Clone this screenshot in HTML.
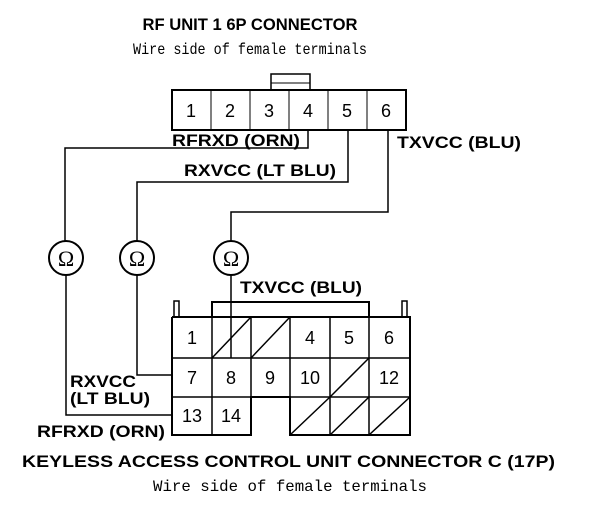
<!DOCTYPE html>
<html><head><style>
body{margin:0;background:#fff}
svg{display:block}
.b{font-family:"Liberation Sans",sans-serif;font-weight:bold;font-size:17px}
.m{font-family:"Liberation Mono",monospace;font-size:16px}
.n{font-family:"Liberation Sans",sans-serif;font-size:18px}
</style></head><body>
<svg width="608" height="512" viewBox="0 0 608 512" xmlns="http://www.w3.org/2000/svg">
<g fill="#000">
<text class="b" x="250" y="30" text-anchor="middle" textLength="215" lengthAdjust="spacingAndGlyphs">RF UNIT 1 6P CONNECTOR</text>
<text class="m" x="250" y="54" text-anchor="middle" textLength="234" lengthAdjust="spacingAndGlyphs">Wire side of female terminals</text>
</g>
<g stroke="#000" fill="none" stroke-width="2">
<rect x="271" y="74" width="39" height="16" stroke-width="1.5"/>
<line x1="271" y1="83" x2="310" y2="83" stroke-width="1"/>
<rect x="172" y="90" width="234" height="40"/>
<g stroke-width="1">
<line x1="211" y1="90" x2="211" y2="130"/><line x1="250" y1="90" x2="250" y2="130"/>
<line x1="289" y1="90" x2="289" y2="130"/><line x1="328" y1="90" x2="328" y2="130"/>
<line x1="367" y1="90" x2="367" y2="130"/>
</g>
<polyline points="308,130 308,148 65,148 65,241" stroke-width="1.5"/>
<polyline points="348,130 348,182 137,182 137,241" stroke-width="1.5"/>
<polyline points="388,130 388,212 231,212 231,241" stroke-width="1.5"/>
<circle cx="66" cy="258" r="17"/><circle cx="137" cy="258" r="17"/><circle cx="231" cy="258" r="17"/>
<polyline points="66,275 66,415 172,415" stroke-width="1.5"/>
<polyline points="137,275 137,375 172,375" stroke-width="1.5"/>
<line x1="231" y1="275" x2="231" y2="358" stroke-width="1.5"/>
<polyline points="212,317 212,302 369,302 369,317"/>
<rect x="174" y="301" width="5" height="16" stroke-width="1.5"/>
<rect x="402" y="301" width="5" height="16" stroke-width="1.5"/>
<polyline points="172,317 410,317 410,435 290,435 290,397 251,397 251,435 172,435 172,317"/>
<g stroke-width="1.5">
<line x1="172" y1="358" x2="410" y2="358"/><line x1="172" y1="397" x2="251" y2="397"/><line x1="290" y1="397" x2="410" y2="397"/>
<line x1="212" y1="317" x2="212" y2="435"/><line x1="251" y1="317" x2="251" y2="397"/>
<line x1="290" y1="317" x2="290" y2="397"/><line x1="330" y1="317" x2="330" y2="435"/>
<line x1="369" y1="317" x2="369" y2="435"/>
<line x1="212" y1="358" x2="251" y2="317"/><line x1="251" y1="358" x2="290" y2="317"/>
<line x1="330" y1="397" x2="369" y2="358"/>
<line x1="290" y1="435" x2="330" y2="397"/><line x1="330" y1="435" x2="369" y2="397"/><line x1="369" y1="435" x2="410" y2="397"/>
</g>
</g>
<g fill="#000" class="n" text-anchor="middle">
<text x="191" y="117">1</text><text x="230" y="117">2</text><text x="269" y="117">3</text>
<text x="308" y="117">4</text><text x="347" y="117">5</text><text x="386" y="117">6</text>
<text x="192" y="344">1</text><text x="310" y="344">4</text><text x="349" y="344">5</text><text x="389" y="344">6</text>
<text x="192" y="384">7</text><text x="231" y="384">8</text><text x="270" y="384">9</text><text x="310" y="384">10</text><text x="389" y="384">12</text>
<text x="192" y="422">13</text><text x="231" y="422">14</text>
</g>
<g fill="#000" font-family="Liberation Serif,serif" font-size="22" text-anchor="middle">
<text x="66" y="266">Ω</text><text x="137" y="266">Ω</text><text x="231" y="266">Ω</text>
</g>
<g fill="#000" class="b">
<text x="172" y="146" textLength="128" lengthAdjust="spacingAndGlyphs">RFRXD (ORN)</text>
<text x="184" y="176" textLength="152" lengthAdjust="spacingAndGlyphs">RXVCC (LT BLU)</text>
<text x="397" y="148" textLength="124" lengthAdjust="spacingAndGlyphs">TXVCC (BLU)</text>
<text x="240" y="293" textLength="122" lengthAdjust="spacingAndGlyphs">TXVCC (BLU)</text>
<text x="70" y="387" textLength="66" lengthAdjust="spacingAndGlyphs">RXVCC</text>
<text x="70" y="404" textLength="80" lengthAdjust="spacingAndGlyphs">(LT BLU)</text>
<text x="37" y="437" textLength="128" lengthAdjust="spacingAndGlyphs">RFRXD (ORN)</text>
<text x="22" y="467" textLength="533" lengthAdjust="spacingAndGlyphs">KEYLESS ACCESS CONTROL UNIT CONNECTOR C (17P)</text>
</g>
<text class="m" x="290" y="491" text-anchor="middle" textLength="274" lengthAdjust="spacingAndGlyphs">Wire side of female terminals</text>
</svg>
</body></html>
